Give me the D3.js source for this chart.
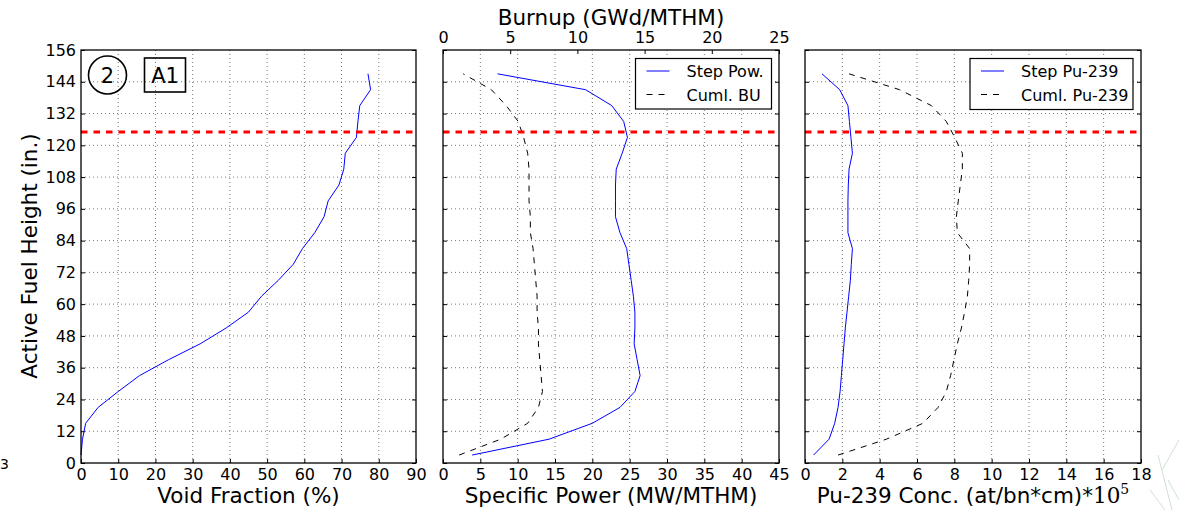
<!DOCTYPE html>
<html><head><meta charset="utf-8">
<script src="https://cdn.jsdelivr.net/npm/d3@7"></script>
<style>
body{margin:0;background:#fff;}
svg{display:block;font-family:"DejaVu Sans",sans-serif;}
</style></head>
<body><svg id="c" width="1179" height="510"></svg>
<script>
const heights = [3,9,15,21,27,33,39,45,51,57,63,69,75,81,87,93,99,105,111,117,123,129,135,141,147];
const voidFrac = [0,0.4,1.25,4.6,10,15.7,23.5,32,39,45,48.5,53,57,59.5,62.8,65.3,66.4,69.3,70.6,71,74,74.4,74.9,77.8,77.1];
const specPow = [3.9,14.2,20.0,23.7,25.7,26.4,26.0,25.6,25.7,25.7,25.5,25.2,24.9,24.6,23.7,23.1,23.1,23.1,23.2,24.0,24.7,24.2,22.6,19.1,7.3];
const cumBU = [1.2,4.3,6.3,7.1,7.4,7.3,7.2,7.1,7.1,7.0,7.0,6.9,6.8,6.7,6.5,6.5,6.4,6.4,6.4,6.3,6.0,5.6,4.7,3.6,1.5];
const stepPu = [0.46,1.29,1.59,1.77,1.88,1.95,2.02,2.09,2.16,2.25,2.34,2.43,2.48,2.54,2.30,2.30,2.30,2.32,2.36,2.54,2.46,2.38,2.30,1.86,0.91];
const cumPu = [1.77,4.36,6.32,7.13,7.57,7.80,7.98,8.16,8.38,8.55,8.70,8.77,8.82,8.82,8.16,8.11,8.21,8.32,8.43,8.43,8.02,7.57,6.77,5.07,2.36];
const heightTicks = [0,12,24,36,48,60,72,84,96,108,120,132,144,156];
const voidTicks = [0,10,20,30,40,50,60,70,80,90];
const powTicks = [0,5,10,15,20,25,30,35,40,45];
const buTicks = [0,5,10,15,20,25];
const puTicks = [0,2,4,6,8,10,12,14,16,18];
const limitHeight = 125;

const TICK_FS = 16, TITLE_FS = 21.5, LEG_FS = 16;
const svg = d3.select("#c");
const plotTop = 50, plotBottom = 463;
const y = d3.scaleLinear().domain([0,156]).range([plotBottom, plotTop]);

function panel(x0, x1, xDomain, xTicks, title, showY) {
  const x = d3.scaleLinear().domain(xDomain).range([x0, x1]);
  const g = svg.append("g");
  g.selectAll(".vg").data(xTicks.slice(1, -1)).join("line")
    .attr("x1", d => x(d)).attr("x2", d => x(d)).attr("y1", plotTop).attr("y2", plotBottom)
    .attr("stroke", "#777").attr("stroke-width", 1).attr("stroke-dasharray", "1,3");
  g.selectAll(".hg").data(heightTicks.slice(1, -1)).join("line")
    .attr("x1", x0).attr("x2", x1).attr("y1", d => y(d)).attr("y2", d => y(d))
    .attr("stroke", "#777").attr("stroke-width", 1).attr("stroke-dasharray", "1,3");
  const ab = g.append("g").attr("transform", `translate(0,${plotBottom})`)
    .call(d3.axisBottom(x).tickValues(xTicks).tickSize(-4).tickPadding(6).tickSizeOuter(0));
  ab.select(".domain").remove();
  ab.selectAll("text").attr("font-size", TICK_FS).attr("fill", "#000").attr("font-family", "DejaVu Sans");
  const al = g.append("g").attr("transform", `translate(${x0},0)`)
    .call(d3.axisLeft(y).tickValues(heightTicks).tickSize(-4).tickPadding(5).tickSizeOuter(0)
      .tickFormat(showY ? d3.format("d") : () => ""));
  al.select(".domain").remove();
  al.selectAll("text").attr("font-size", TICK_FS).attr("fill", "#000").attr("font-family", "DejaVu Sans");
  const ar = g.append("g").attr("transform", `translate(${x1},0)`)
    .call(d3.axisRight(y).tickValues(heightTicks).tickSize(-4).tickFormat(() => "").tickSizeOuter(0));
  ar.select(".domain").remove();
  g.selectAll(".tick line").attr("stroke", "#000");
  g.append("text").attr("x", (x0 + x1) / 2).attr("y", 503).attr("text-anchor", "middle")
    .attr("font-size", TITLE_FS).attr("class", "xt").text(title);
  return {g, x};
}

function frame(x0, x1) {
  svg.append("rect").attr("x", x0).attr("y", plotTop).attr("width", x1 - x0).attr("height", plotBottom - plotTop)
    .attr("fill", "none").attr("stroke", "#000").attr("stroke-width", 1.3);
}

function curve(g, x, vals, color, dash) {
  const line = d3.line().x(d => x(d[0])).y(d => y(d[1]));
  g.append("path").datum(vals.map((v, i) => [v, heights[i]]))
    .attr("d", line).attr("fill", "none").attr("stroke", color).attr("stroke-width", 1)
    .attr("stroke-dasharray", dash || null);
}

function redLine(x0, x1) {
  svg.append("line").attr("x1", x0).attr("x2", x1).attr("y1", y(limitHeight)).attr("y2", y(limitHeight))
    .attr("stroke", "#ff0000").attr("stroke-width", 3).attr("stroke-dasharray", "6.5,6");
}

function legend(bx, by, bw, bh, items) {
  svg.append("rect").attr("x", bx).attr("y", by).attr("width", bw).attr("height", bh)
    .attr("fill", "#fff").attr("stroke", "#000").attr("stroke-width", 1.2);
  items.forEach((it, i) => {
    const cy = by + 12.5 + i * 23.5;
    svg.append("line").attr("x1", bx + 11).attr("x2", bx + 34).attr("y1", cy).attr("y2", cy)
      .attr("stroke", it.color).attr("stroke-width", 1).attr("stroke-dasharray", it.dash || null);
    svg.append("text").attr("x", bx + 51).attr("y", cy + 6).attr("font-size", LEG_FS).text(it.label);
  });
}

// Left panel
const p1 = panel(81, 416, [0, 90], voidTicks, "Void Fraction (%)", true);
curve(p1.g, p1.x, voidFrac, "#0000ff");
redLine(81, 416);
frame(81, 416);

// Middle panel
const p2 = panel(443, 779, [0, 45], powTicks, "Specific Power (MW/MTHM)", false);
const xb = d3.scaleLinear().domain([0, 25]).range([443, 779]);
const at = p2.g.append("g").attr("transform", `translate(0,${plotTop})`)
  .call(d3.axisTop(xb).tickValues(buTicks).tickSize(-4).tickPadding(7).tickSizeOuter(0));
at.select(".domain").remove();
at.selectAll("text").attr("font-size", TICK_FS).attr("fill", "#000").attr("font-family", "DejaVu Sans");
at.selectAll(".tick line").attr("stroke", "#000");
svg.append("text").attr("x", 611).attr("y", 25).attr("text-anchor", "middle").attr("font-size", TITLE_FS)
  .text("Burnup (GWd/MTHM)");
curve(p2.g, p2.x, specPow, "#0000ff");
curve(p2.g, xb, cumBU, "#000", "6,6");
redLine(443, 779);
frame(443, 779);
legend(635.5, 58.5, 136, 50.5, [
  {label: "Step Pow.", color: "#0000ff"},
  {label: "Cuml. BU", color: "#000", dash: "6,6"}
]);

// Right panel
const p3 = panel(805, 1141, [0, 18], puTicks, "", false);
p3.g.select(".xt").text("Pu-239 Conc. (at/bn*cm)*")
  .append("tspan").attr("font-family", "DejaVu Serif, Liberation Serif, serif").text("10");
p3.g.select(".xt").append("tspan").attr("font-family", "DejaVu Serif, Liberation Serif, serif")
  .attr("font-size", 14).attr("dy", -9).text("5");
curve(p3.g, p3.x, stepPu, "#0000ff");
curve(p3.g, p3.x, cumPu, "#000", "6,6");
redLine(805, 1141);
frame(805, 1141);
legend(970, 58.5, 163, 51, [
  {label: "Step Pu-239", color: "#0000ff"},
  {label: "Cuml. Pu-239", color: "#000", dash: "6,6"}
]);

// Labels
svg.append("text").attr("transform", "translate(37,256) rotate(-90)").attr("text-anchor", "middle")
  .attr("font-size", TITLE_FS).text("Active Fuel Height (in.)");
svg.append("circle").attr("cx", 107.5).attr("cy", 75).attr("r", 19).attr("fill", "none")
  .attr("stroke", "#000").attr("stroke-width", 1.6);
svg.append("text").attr("x", 107.5).attr("y", 82.5).attr("text-anchor", "middle").attr("font-size", 21).text("2");
svg.append("rect").attr("x", 144.5).attr("y", 58).attr("width", 41).attr("height", 34)
  .attr("fill", "none").attr("stroke", "#000").attr("stroke-width", 1.6);
svg.append("text").attr("x", 165).attr("y", 82.5).attr("text-anchor", "middle").attr("font-size", 21).text("A1");
svg.append("text").attr("x", 0).attr("y", 469).attr("font-size", 14).text("3");
[[1158,455,1172,510],[1162,470,1179,440],[1150,490,1165,510],[1168,480,1179,500]].forEach(s => {
  svg.append("line").attr("x1", s[0]).attr("y1", s[1]).attr("x2", s[2]).attr("y2", s[3])
    .attr("stroke", "#cfe0d0").attr("stroke-width", 1);
});
</script></body></html>
